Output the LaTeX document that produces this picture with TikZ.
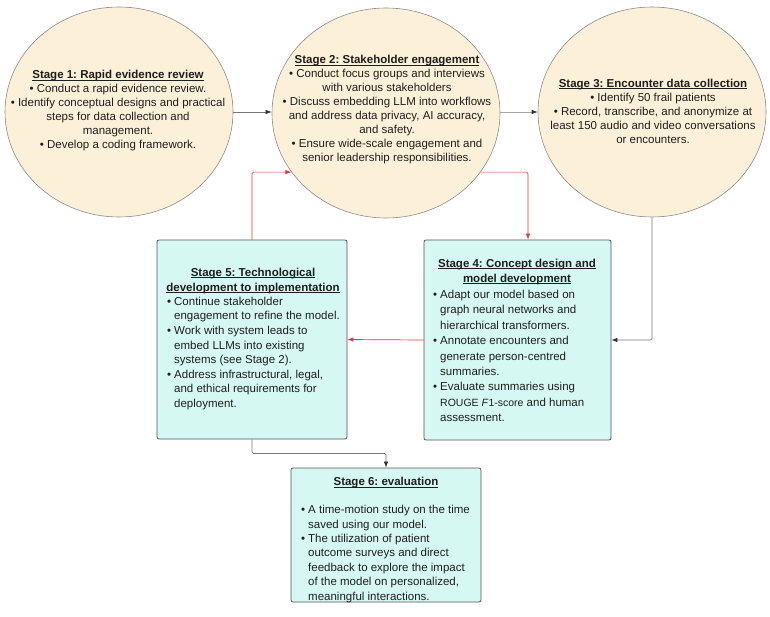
\documentclass[tikz,border=0pt]{standalone}
\usepackage{fontspec}
\setmainfont{Liberation Sans}
\usetikzlibrary{shapes.geometric,arrows.meta}
\definecolor{beige}{HTML}{FDF0D8}
\definecolor{beigeline}{HTML}{8A8A8A}
\definecolor{cyanfill}{HTML}{D6F8F2}
\definecolor{boxline}{HTML}{555555}
\definecolor{txt}{HTML}{1E1E1E}
\definecolor{redline}{HTML}{E8363C}
\definecolor{grayline}{HTML}{777777}
\newcommand\bul{\makebox[7pt][l]{•}}
\newcommand\ind{\hspace*{7pt}}
\newcommand\ttl[1]{\setbox0\hbox{\textbf{#1}}\rlap{\box0}\rule[-1.7pt]{\widthof{\textbf{#1}}}{0.75pt}}
\usepackage{calc}
\frenchspacing
\begin{document}
\begin{tikzpicture}[x=1pt,y=-1pt,
  stagecircle/.style={ellipse, draw=beigeline, line width=0.6pt, fill=beige, minimum width=228pt, minimum height=210pt, inner sep=0pt},
  stagebox/.style={draw=boxline, line width=0.8pt, fill=cyanfill, rounded corners=2pt, inner sep=0pt},
  ctext/.style={align=center, inner sep=0pt, text=txt, font=\fontsize{11.5}{14}\selectfont},
  ltext/.style={align=left, inner sep=0pt, text=txt, font=\fontsize{11.5}{14.6}\selectfont, anchor=west},
  redarrow/.style={draw=redline, line width=0.7pt, -{Latex[length=6pt,width=4.5pt]}, rounded corners=1.5pt},
  grayarrow/.style={draw=grayline, line width=0.7pt, -{Latex[length=6pt,width=4.5pt,color=black!80]}, rounded corners=1.5pt}
]
\useasboundingbox (0,0) rectangle (770,617);

% circles
\node[stagecircle] (c1) at (119,112) {};
\node[stagecircle] (c2) at (386,113) {};
\node[stagecircle] (c3) at (652,112) {};

\node[ctext] (t1) at (118,111) {\ttl{Stage 1: Rapid evidence review}\\
• Conduct a rapid evidence review.\\
• Identify conceptual designs and practical\\
steps for data collection and\\
management.\\
• Develop a coding framework.};

\node[ctext] (t2) at (387,110) {\ttl{Stage 2: Stakeholder engagement}\\
• Conduct focus groups and interviews\\
with various stakeholders\\
• Discuss embedding LLM into workflows\\
and address data privacy, AI accuracy,\\
and safety.\\
• Ensure wide-scale engagement and\\
senior leadership responsibilities.};

\node[ctext] (t3) at (653,111) {\ttl{Stage 3: Encounter data collection}\\
• Identify 50 frail patients\\
• Record, transcribe, and anonymize at\\
least 150 audio and video conversations\\
or encounters.};

% boxes
\node[stagebox, minimum width=187pt, minimum height=200pt] (s4) at (517.5,340) {};
\node[stagebox, minimum width=190pt, minimum height=199pt] (s5) at (252,339.5) {};
\node[stagebox, minimum width=190pt, minimum height=134pt] (s6) at (386,535) {};

\node[ctext, font=\fontsize{11.5}{15}\selectfont] (h4) at (517,272) {\ttl{Stage 4: Concept design and}\\\ttl{model development}};
\node[ltext, font=\fontsize{11.5}{15.4}\selectfont] (b4) at (433,356) {\bul Adapt our model based on\\
\ind graph neural networks and\\
\ind hierarchical transformers.\\
\bul Annotate encounters and\\
\ind generate person-centred\\
\ind summaries.\\
\bul Evaluate summaries using\\
\ind {\fontsize{10.5}{10}\selectfont ROUGE \textit{F}1-score} and human\\
\ind assessment.};

\node[ctext, font=\fontsize{11.5}{15}\selectfont] (h5) at (253,281) {\ttl{Stage 5: Technological}\\\ttl{development to implementation}};
\node[ltext] (b5) at (167,353.5) {\bul Continue stakeholder\\
\ind engagement to refine the model.\\
\bul Work with system leads to\\
\ind embed LLMs into existing\\
\ind systems (see Stage 2).\\
\bul Address infrastructural, legal,\\
\ind and ethical requirements for\\
\ind deployment.};

\node[ctext] (h6) at (386,483) {\ttl{Stage 6: evaluation}};
\node[ltext, font=\fontsize{11.5}{14.4}\selectfont] (b6) at (301,554) {\bul A time-motion study on the time\\
\ind saved using our model.\\
\bul The utilization of patient\\
\ind outcome surveys and direct\\
\ind feedback to explore the impact\\
\ind of the model on personalized,\\
\ind meaningful interactions.};

% connectors
\draw[grayarrow] (c1.east) -- (c2.west |- c1.east);
\draw[grayarrow, draw=black!35] (c2.east |- c3.west) -- (c3.west);
\draw[redarrow] (c2.-32) -| ([xshift=10.5pt]s4.north);
\draw[grayarrow] (c3.south) |- (s4.east);
\draw[redarrow] (s4.west) -- (s5.east);
\draw[redarrow] (s5.north) |- (c2.212);
\coordinate (k1) at ([yshift=-14pt]s5.south);
\draw[grayarrow] (s5.south) -- (k1) -| (s6.north);
\end{tikzpicture}
\end{document}
